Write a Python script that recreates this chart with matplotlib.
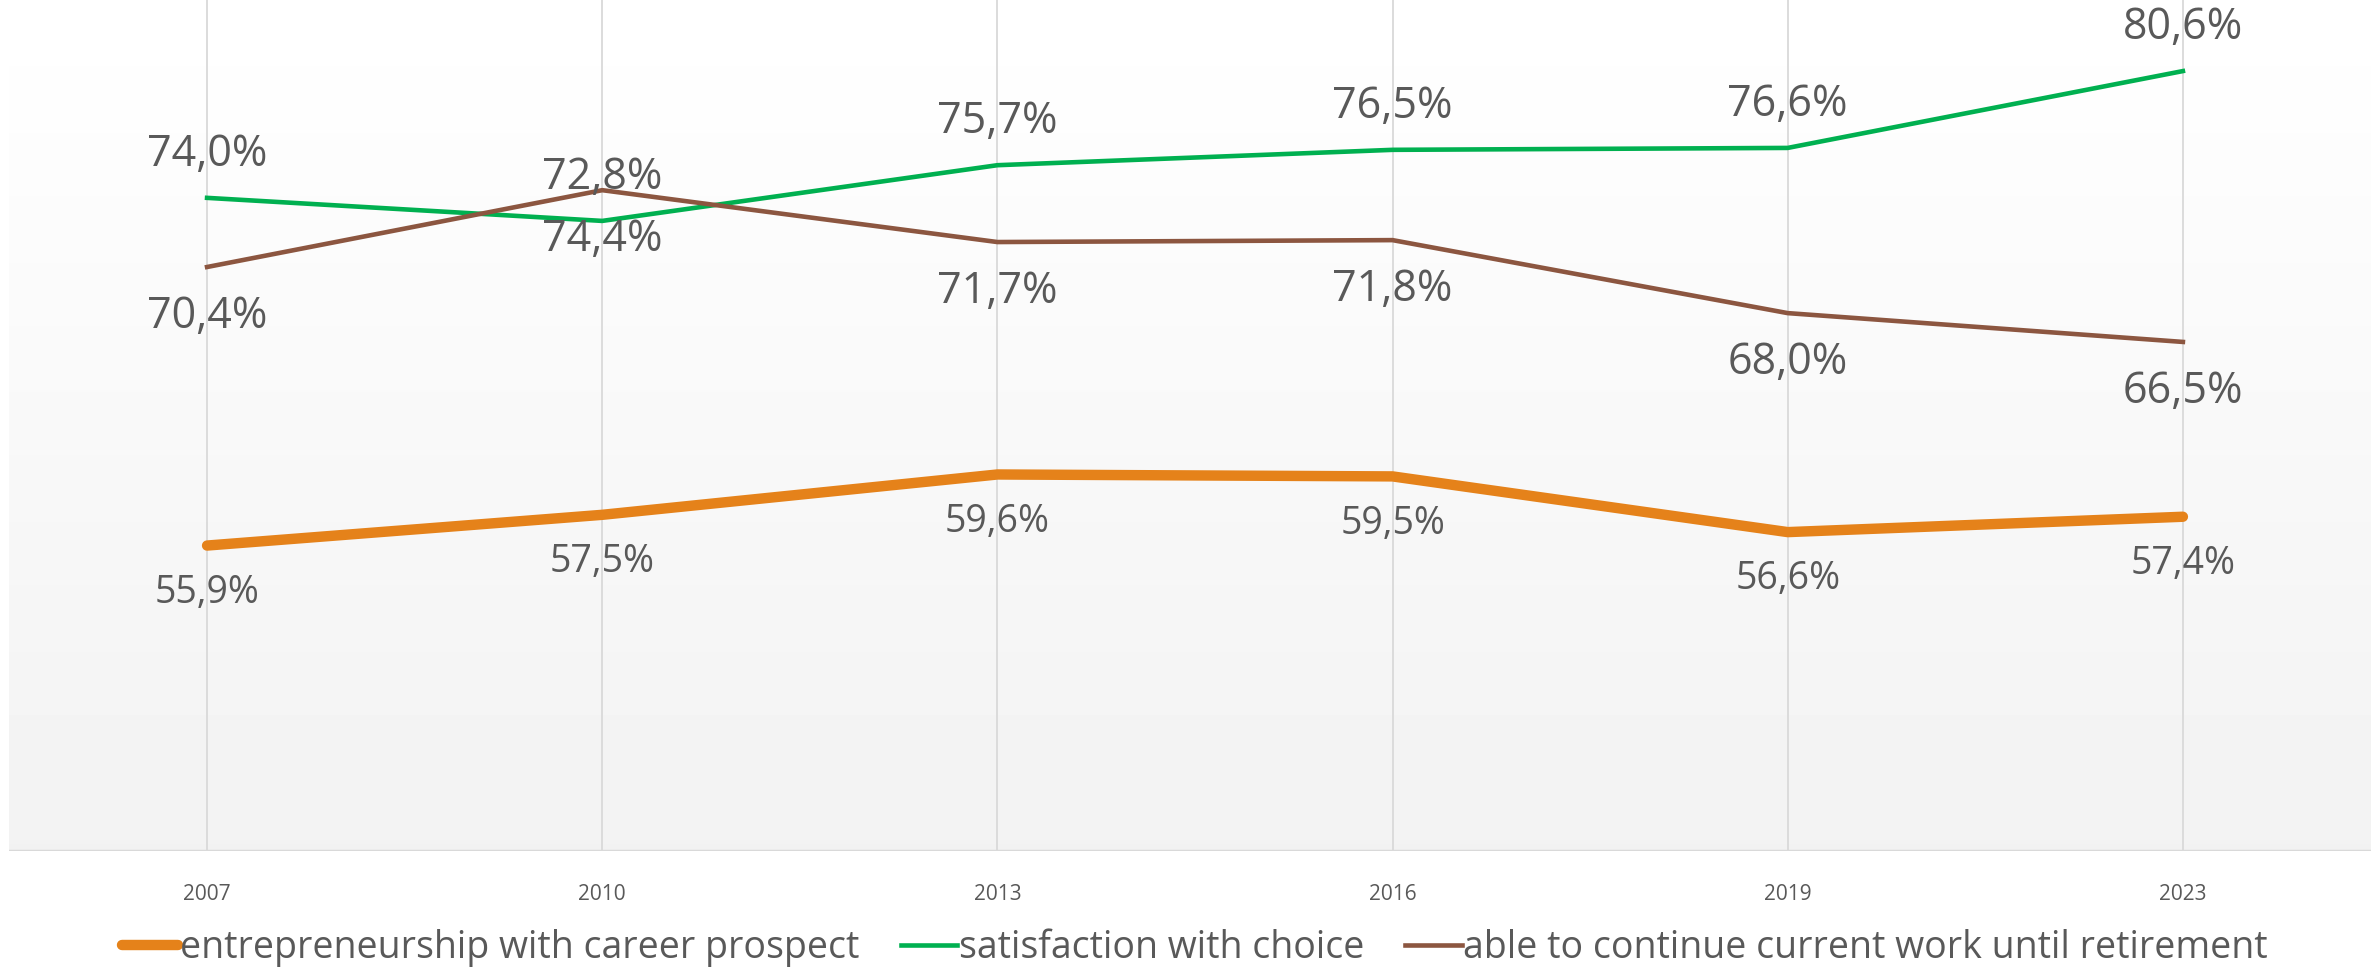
import numpy as np
import matplotlib
matplotlib.use("Agg")
import matplotlib.pyplot as plt

plt.rcParams['font.family'] = ['Open Sans', 'DejaVu Sans']

# Data
years = ["2007", "2010", "2013", "2016", "2019", "2023"]
entrepreneurship = [55.9, 57.5, 59.6, 59.5, 56.6, 57.4]
satisfaction = [74.0, 72.8, 75.7, 76.5, 76.6, 80.6]
retirement = [70.4, 74.4, 71.7, 71.8, 68.0, 66.5]

c_orange = "#e5821a"
c_green = "#00b050"
c_brown = "#8c5640"
c_text = "#595959"

fig = plt.figure(figsize=(23.71, 9.72), dpi=100)
ax = fig.add_axes([0.004, 0.1245, 1.0, 0.8755])
x = np.arange(len(years))

# gradient background in plot area
grad = np.linspace(1.0, 0.949, 256).reshape(-1, 1)
ax.imshow(grad, extent=[0, 1, 0, 1], transform=ax.transAxes, cmap="gray",
          vmin=0, vmax=1, aspect="auto", zorder=0)

for xi in x:
    ax.axvline(xi, color="#d9d9d9", lw=1.3, zorder=1)
ax.axhline(40, color="#d9d9d9", lw=2.5, zorder=1)

ax.plot(x, entrepreneurship, color=c_orange, lw=7.5, solid_capstyle="round",
        label="entrepreneurship with career prospect", zorder=3)
ax.plot(x, satisfaction, color=c_green, lw=3.3,
        label="satisfaction with choice", zorder=3)
ax.plot(x, retirement, color=c_brown, lw=3.3,
        label="able to continue current work until retirement", zorder=3)

def fmt(v):
    return f"{v:.1f}%".replace(".", ",")

for xi, v in zip(x, satisfaction):
    ax.annotate(fmt(v), (xi, v), xytext=(0, 31), textcoords="offset points",
                ha="center", va="center", fontsize=31, color=c_text)
for xi, v in zip(x, retirement):
    ax.annotate(fmt(v), (xi, v), xytext=(0, -36), textcoords="offset points",
                ha="center", va="center", fontsize=31, color=c_text)
for xi, v in zip(x, entrepreneurship):
    ax.annotate(fmt(v), (xi, v), xytext=(0, -34), textcoords="offset points",
                ha="center", va="center", fontsize=27, color=c_text)

ax.set_xlim(-0.5, 5.5)
ax.set_ylim(40, 84.3)
ax.set_xticks(x)
ax.set_xticklabels(years, fontsize=15, color=c_text)
ax.tick_params(axis="x", length=0, pad=24)
ax.set_yticks([])
for s in ax.spines.values():
    s.set_visible(False)

fig.legend(loc="center", bbox_to_anchor=(0.504, 0.025), ncol=3, frameon=False,
           fontsize=27, labelcolor=c_text, handlelength=1.5, handletextpad=0.05,
           columnspacing=1.1)

fig.savefig("out.png", dpi=100)
